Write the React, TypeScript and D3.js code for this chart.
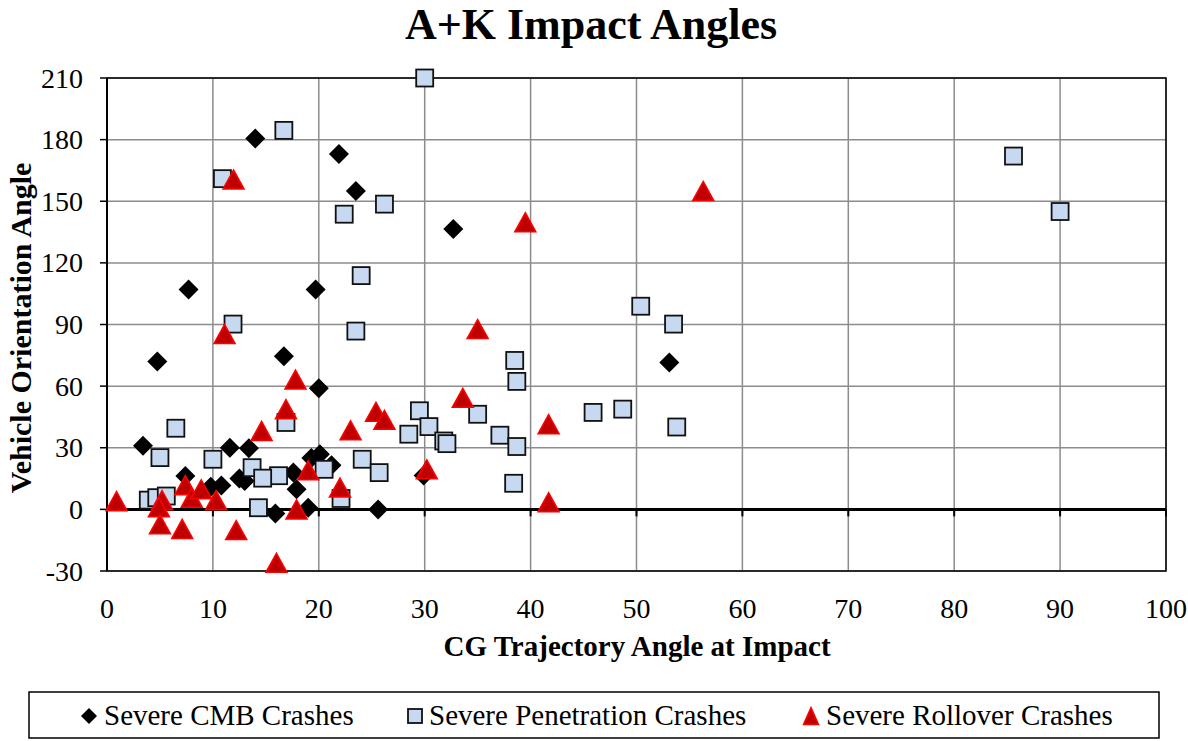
import React from "react";
import * as d3 from "d3";

const cmbX = [3.4, 4.75, 7.7, 14.0, 21.9, 23.5, 32.7, 19.7, 16.7, 20.0, 53.1, 7.4, 11.6, 13.4, 12.5, 13.0, 9.8, 10.8, 17.6, 17.9, 15.9, 19.0, 20.1, 19.3, 21.2, 25.6, 29.9];
const cmbY = [31, 72, 107, 180.5, 173, 155, 136.5, 107, 74.5, 59, 71.5, 16.3, 30, 29.8, 15, 13.8, 11, 11.6, 17.9, 9.8, -2, 0.8, 26.8, 25, 21.5, 0, 16.5];

const penX = [30, 16.7, 10.9, 26.2, 22.4, 24, 11.9, 23.5, 38.5, 38.7, 50.4, 53.5, 29.5, 35, 45.9, 48.7, 53.8, 30.4, 28.5, 31.8, 32.1, 37.1, 38.7, 38.4, 85.6, 90, 24.1, 25.7, 20.5, 16.9, 22.1, 6.5, 5.0, 10.0, 13.7, 16.2, 14.7, 14.3, 3.9, 4.7, 5.6];
const penY = [210, 184.5, 161, 148.6, 143.7, 113.8, 90.2, 86.8, 72.5, 62.3, 98.9, 90.2, 48, 46.3, 47.2, 48.8, 40.1, 40.3, 36.6, 33.3, 32, 36.1, 30.6, 12.7, 172, 145, 24.4, 17.9, 19.5, 42.3, 5.3, 39.5, 25.2, 24.4, 20.3, 16.4, 15.2, 0.8, 4.5, 5.7, 6.5];

const rollX = [0.9, 5.2, 4.9, 5.0, 7.1, 7.4, 8.0, 8.9, 10.3, 11.1, 11.95, 12.2, 14.6, 16.0, 16.9, 17.8, 17.9, 19.0, 22.0, 23.0, 25.4, 26.2, 30.2, 33.6, 35.0, 39.5, 41.7, 41.7, 56.3];
const rollY = [4, 4.5, 1, -7.3, -9.5, 11.8, 5.7, 9.8, 4.5, 85.4, 160.6, -10.1, 38.2, -26, 48.8, 63.2, 0, 19, 10.6, 38.5, 47.5, 43.6, 19.5, 54.3, 87.8, 139.8, 41.5, 3.5, 155];

const xTicks = [0, 10, 20, 30, 40, 50, 60, 70, 80, 90, 100];
const yTicks = [-30, 0, 30, 60, 90, 120, 150, 180, 210];

const seriesNames = ["Severe CMB Crashes", "Severe Penetration Crashes", "Severe Rollover Crashes"];
const titleText = "A+K Impact Angles";
const xTitle = "CG Trajectory Angle at Impact";
const yTitle = "Vehicle Orientation Angle";

const FONT = "'Liberation Serif', 'Times New Roman', serif";

const W = 1188, H = 741;
const L = 107, R = 1166, T = 78, B = 571;

const x = d3.scaleLinear().domain([0, 100]).range([L, R]);
const y = d3.scaleLinear().domain([-30, 210]).range([B, T]);

const tri = (cx: number, cy: number, w = 20, h = 18) =>
  `M${cx},${cy - h / 2}L${cx + w / 2},${cy + h / 2}L${cx - w / 2},${cy + h / 2}Z`;

function Diamond({ cx, cy, s = 10 }: { cx: number; cy: number; s?: number }) {
  return <path d={`M${cx},${cy - s}L${cx + s},${cy}L${cx},${cy + s}L${cx - s},${cy}Z`} fill="#000" />;
}
function Square({ cx, cy, s = 17 }: { cx: number; cy: number; s?: number }) {
  return <rect x={cx - s / 2} y={cy - s / 2} width={s} height={s} fill="#c6d9f1" stroke="#111" strokeWidth={1.8} />;
}
function Tri({ cx, cy, w = 21, h = 19 }: { cx: number; cy: number; w?: number; h?: number }) {
  return <path d={tri(cx, cy, w, h)} fill="#c00000" stroke="#ff0000" strokeWidth={1.5} strokeLinejoin="miter" />;
}

export default function App() {
  return (
    <svg width={W} height={H} style={{ position: "absolute", left: 0, top: 0, background: "#fff" }} fontFamily={FONT}>
      <rect x={0} y={0} width={W} height={H} fill="#fff" />
      <text x={591} y={39} textAnchor="middle" fontSize={44} fontWeight="bold">{titleText}</text>

      {/* grid */}
      {xTicks.map((t) => (
        <line key={"gx" + t} x1={x(t)} x2={x(t)} y1={T} y2={B} stroke="#8c8c8c" strokeWidth={1.5} />
      ))}
      {yTicks.map((t) => (
        <line key={"gy" + t} x1={L} x2={R} y1={y(t)} y2={y(t)} stroke="#8c8c8c" strokeWidth={1.5} />
      ))}
      {/* frame */}
      <rect x={L} y={T} width={R - L} height={B - T} fill="none" stroke="#000" strokeWidth={1.5} />
      {/* zero line */}
      <line x1={L} x2={R} y1={y(0)} y2={y(0)} stroke="#000" strokeWidth={3} />
      {xTicks.map((t) => (
        <line key={"tx" + t} x1={x(t)} x2={x(t)} y1={y(0)} y2={y(0) + 7} stroke="#000" strokeWidth={2} />
      ))}
      <line x1={L} x2={L} y1={T} y2={B} stroke="#000" strokeWidth={2} />
      {yTicks.map((t) => (
        <line key={"ty" + t} x1={L - 7} x2={L} y1={y(t)} y2={y(t)} stroke="#000" strokeWidth={1.5} />
      ))}

      {/* tick labels */}
      {yTicks.map((t) => (
        <text key={"ly" + t} x={83} y={y(t) + 9.5} textAnchor="end" fontSize={28}>{t}</text>
      ))}
      {xTicks.map((t) => (
        <text key={"lx" + t} x={x(t)} y={618} textAnchor="middle" fontSize={28}>{t}</text>
      ))}

      <text x={637} y={656} textAnchor="middle" fontSize={29} fontWeight="bold">{xTitle}</text>
      <text transform={`translate(31,${328}) rotate(-90)`} textAnchor="middle" fontSize={30} fontWeight="bold">{yTitle}</text>

      {/* series */}
      <g>
        {cmbX.map((v, i) => <Diamond key={"c" + i} cx={x(v)} cy={y(cmbY[i])} />)}
      </g>
      <g>
        {penX.map((v, i) => <Square key={"p" + i} cx={x(v)} cy={y(penY[i])} />)}
      </g>
      <g>
        {rollX.map((v, i) => <Tri key={"r" + i} cx={x(v)} cy={y(rollY[i])} />)}
      </g>

      {/* legend */}
      <rect x={29} y={692} width={1130} height={46} fill="#fff" stroke="#000" strokeWidth={1.5} />
      <Diamond cx={89} cy={716} s={8} />
      <text x={104} y={725} fontSize={29}>{seriesNames[0]}</text>
      <Square cx={415} cy={716} s={14} />
      <text x={429} y={725} fontSize={29}>{seriesNames[1]}</text>
      <Tri cx={811} cy={716} w={15} h={17} />
      <text x={826} y={725} fontSize={29}>{seriesNames[2]}</text>
    </svg>
  );
}
